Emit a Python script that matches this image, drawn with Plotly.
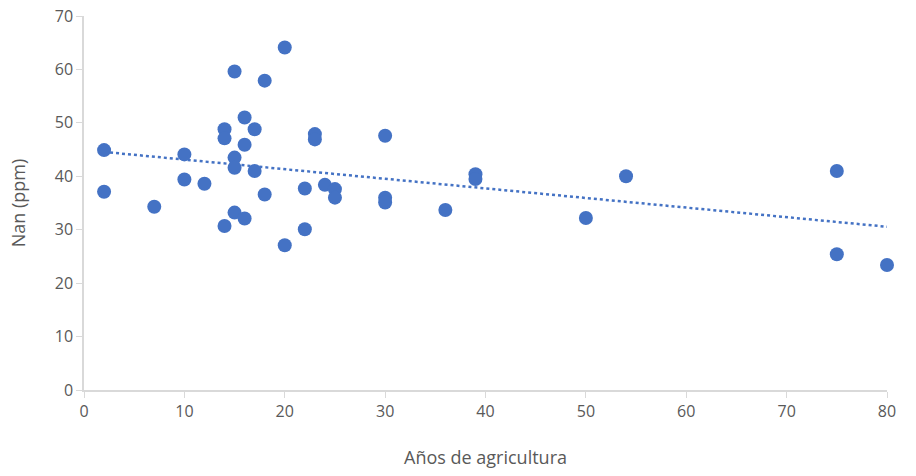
import numpy as np
import plotly.graph_objects as go

anos = [2, 2, 7, 10, 10, 12, 14, 14, 14, 15, 15, 15, 15, 16, 16, 16, 17, 17, 18, 18,
        20, 20, 22, 22, 23, 23, 24, 25, 25, 30, 30, 30, 36, 39, 39, 50, 54, 75, 75, 80]
nan_ppm = [44.9, 37.1, 34.3, 44.1, 39.4, 38.6, 48.8, 47.1, 30.7, 59.6, 43.5, 41.6, 33.2,
           51.0, 45.9, 32.1, 48.8, 41.0, 57.9, 36.6, 64.1, 27.1, 37.7, 30.1, 47.9, 46.9,
           38.4, 37.6, 36.0, 47.6, 36.0, 35.1, 33.7, 40.4, 39.5, 32.2, 40.0, 41.0, 25.4, 23.4]

x_ticks = [0, 10, 20, 30, 40, 50, 60, 70, 80]
y_ticks = [0, 10, 20, 30, 40, 50, 60, 70]

slope, intercept = np.polyfit(anos, nan_ppm, 1)
trend_x = [min(anos), max(anos)]
trend_y = [slope * v + intercept for v in trend_x]

blue = "#4472C4"
grey_text = "#595959"
axis_grey = "#D9D9D9"

fig = go.Figure()
fig.add_trace(go.Scatter(x=trend_x, y=trend_y, mode="lines",
                         line=dict(color=blue, width=2.5, dash="dot"),
                         hoverinfo="skip", showlegend=False))
fig.add_trace(go.Scatter(x=anos, y=nan_ppm, mode="markers",
                         marker=dict(color=blue, size=14),
                         cliponaxis=False, showlegend=False))

font = "Open Sans, Segoe UI, sans-serif"
fig.update_layout(
    width=916, height=476,
    margin=dict(l=84, r=29, t=16, b=86),
    plot_bgcolor="white", paper_bgcolor="white",
    font=dict(family=font, color=grey_text, size=16),
    xaxis=dict(range=[0, 80], tickvals=x_ticks, showgrid=False, zeroline=False,
               automargin=False,
               showline=True, linecolor=axis_grey, linewidth=1.5,
               ticks="outside", ticklen=6, tickcolor=axis_grey,
               title=dict(text="Años de agricultura", font=dict(size=18, color=grey_text), standoff=30)),
    yaxis=dict(range=[0, 70], tickvals=y_ticks, showgrid=False, zeroline=False,
               automargin=False,
               showline=True, linecolor=axis_grey, linewidth=1.5,
               ticks="outside", ticklen=6, tickcolor=axis_grey,
               title=dict(text="Nan (ppm)", font=dict(size=18, color=grey_text), standoff=24)),
)

fig.write_html("out.html")
